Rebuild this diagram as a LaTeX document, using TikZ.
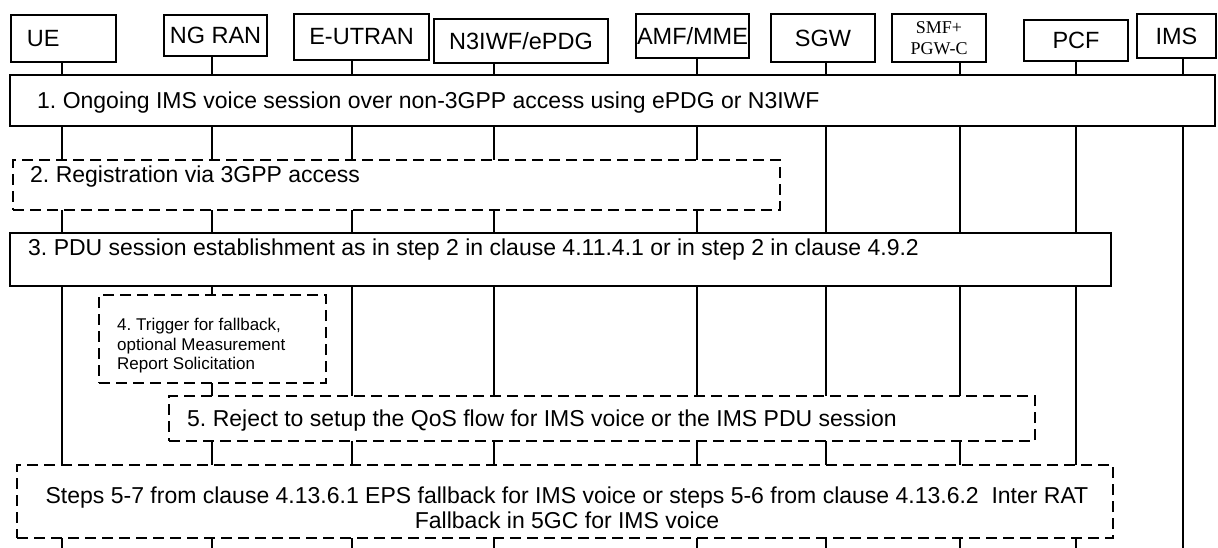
\documentclass[tikz,border=0pt]{standalone}
\usepackage{fontspec}
\setmainfont{Liberation Sans}
\newfontfamily\timesfont{Liberation Serif}
\frenchspacing

\begin{document}
\begin{tikzpicture}[x=1pt, y=-1pt,
    actor/.style={draw, line width=1.6pt, fill=white, inner sep=0pt,
      font=\fontsize{23.5}{26}\selectfont},
    lifeline/.style={line width=1.6pt},
    stepbox/.style={draw, line width=1.8pt, fill=white, inner sep=0pt},
    optbox/.style={stepbox, dash pattern=on 11pt off 6pt},
    steptext/.style={inner sep=0pt, anchor=west, font=\fontsize{23}{27}\selectfont}]
  \useasboundingbox (0,0) rectangle (1218,548);
  \coordinate (bottom) at (0,548);

  % network functions
  \node[actor, minimum width=105, minimum height=47, text width=73pt, align=left]
    (ue) at (63.5,38.5) {UE};
  \node[actor, minimum width=103, minimum height=41] (ngran) at (215.5,35.5) {NG RAN};
  \node[actor, minimum width=135, minimum height=46] (eutran) at (361.5,37) {E-UTRAN};
  \node[actor, minimum width=174, minimum height=44] (n3iwf) at (521,41) {N3IWF/ePDG};
  \node[actor, minimum width=113, minimum height=44] (amf) at (692.5,36) {AMF/MME};
  \node[actor, minimum width=104, minimum height=48] (sgw) at (823,38) {SGW};
  \node[actor, minimum width=94, minimum height=48, align=center,
    font=\timesfont\fontsize{18}{21}\selectfont] (smf) at (939,38) {SMF+\\PGW-C};
  \node[actor, minimum width=104, minimum height=41] (pcf) at (1076,40.5) {PCF};
  \node[actor, minimum width=79, minimum height=44] (ims) at (1176.5,36) {IMS};

  % lifelines
  \foreach \n/\d in {ue/-1.5, ngran/-3.5, eutran/-9.5, n3iwf/-27, amf/4.5,
                     sgw/3, smf/21, pcf/0, ims/6.5}
    \draw[lifeline] ([xshift=\d pt]\n.south) -- ([xshift=\d pt]\n.south |- bottom);

  % steps
  \node[stepbox, minimum width=1205, minimum height=51] (s1) at (612.5,100.5) {};
  \node[steptext] (t1) at (37,103)
    {1. Ongoing IMS voice session over non-3GPP access using ePDG or N3IWF};

  \node[optbox, minimum width=767, minimum height=50] (s2) at (396.5,185) {};
  \node[steptext] (t2) at (30,177) {2. Registration via 3GPP access};

  \node[stepbox, minimum width=1101, minimum height=53] (s3) at (560.5,259.5) {};
  \node[steptext] (t3) at (28,250)
    {3. PDU session establishment as in step 2 in clause 4.11.4.1 or in step 2 in clause 4.9.2};

  \node[optbox, minimum width=227, minimum height=88] (s4) at (212.5,339) {};
  \node[steptext, align=left, font=\fontsize{17}{19.5}\selectfont] (t4) at (117,346)
    {4. Trigger for fallback,\\optional Measurement\\Report Solicitation};

  \node[optbox, minimum width=866, minimum height=45] (s5) at (602,418.5) {};
  \node[steptext] (t5) at (187,421)
    {5. Reject to setup the QoS flow for IMS voice or the IMS PDU session};

  \node[optbox, minimum width=1096, minimum height=73] (s6) at (565,501.5) {};
  \node[steptext, anchor=center, align=center, font=\fontsize{23}{25}\selectfont]
    (t6) at (567,508)
    {Steps 5-7 from clause 4.13.6.1 EPS fallback for IMS voice or steps 5-6 from clause 4.13.6.2~ Inter RAT\\
     Fallback in 5GC for IMS voice};
\end{tikzpicture}
\end{document}
